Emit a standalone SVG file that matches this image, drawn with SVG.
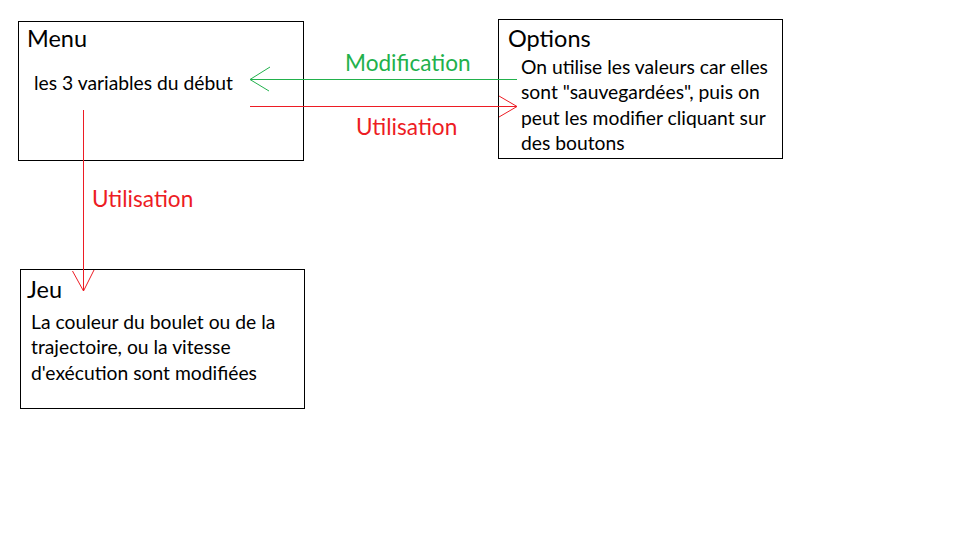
<svg xmlns="http://www.w3.org/2000/svg" width="960" height="540" viewBox="0 0 960 540">
<style>
.box{fill:#fff;stroke:#000;stroke-width:1}
.title{font-family:Lato,"Liberation Sans",sans-serif;font-size:23.5px;fill:#000}
.body{font-family:Lato,"Liberation Sans",sans-serif;font-size:19.3px;fill:#000}
.lbl{font-family:Lato,"Liberation Sans",sans-serif;font-size:22.6px}
.g{stroke:#22b14c;fill:none;stroke-width:1}
.r{stroke:#ed1c24;fill:none;stroke-width:1}
</style>
<rect width="960" height="540" fill="#fff"/>
<g id="menu">
<rect class="box" x="18.5" y="21.5" width="285" height="139"/>
<text class="title" x="27" y="46.5">Menu</text>
<text class="body" x="34" y="89.5">les 3 variables du début</text>
</g>
<g id="options">
<rect class="box" x="498.5" y="19.5" width="284" height="139"/>
<text class="title" x="508" y="46.5">Options</text>
<text class="body" x="521" y="73.5">On utilise les valeurs car elles</text>
<text class="body" x="521" y="99">sont "sauvegardées", puis on</text>
<text class="body" x="521" y="124.5">peut les modifier cliquant sur</text>
<text class="body" x="521" y="150">des boutons</text>
</g>
<g id="jeu">
<rect class="box" x="20.5" y="269.5" width="284" height="139"/>
<text class="title" x="27" y="297.5">Jeu</text>
<text class="body" x="31" y="328.5">La couleur du boulet ou de la</text>
<text class="body" x="31" y="354">trajectoire, ou la vitesse</text>
<text class="body" x="31" y="379.5">d'exécution sont modifiées</text>
</g>
<g id="connectors">
<path class="g" d="M517 79.5 H250 M270 67 L250 79.5 L269 91"/>
<text class="lbl" x="345" y="70.5" fill="#22b14c">Modification</text>
<path class="r" d="M250 106.5 H517 M499 96 L517 106.5 L499 117"/>
<text class="lbl" x="356" y="134.5" fill="#ed1c24">Utilisation</text>
<path class="r" d="M83.5 110 V291 M72.5 271 L83.5 291 L94 270"/>
<text class="lbl" x="92" y="206.5" fill="#ed1c24">Utilisation</text>
</g>
</svg>
